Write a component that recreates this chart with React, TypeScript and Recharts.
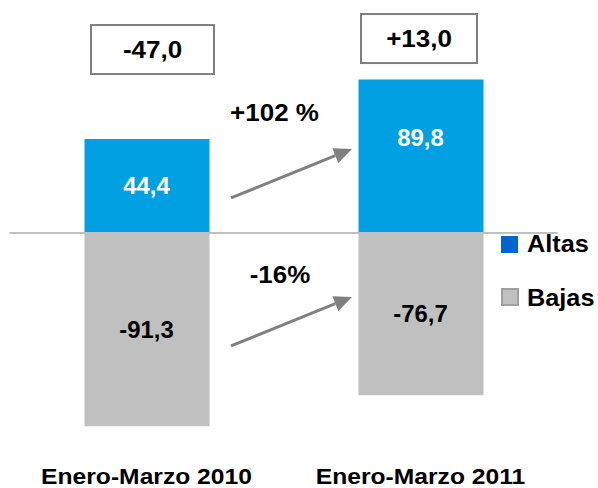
import { Bar, ComposedChart, LabelList, Legend, Line, ReferenceDot, ReferenceLine, XAxis, YAxis } from 'recharts';

const categories = ['Enero-Marzo 2010', 'Enero-Marzo 2011'];
// printed values
const altas = [44.4, 89.8];
const bajas = [-91.3, -76.7];
// bar length as it is drawn in the picture (the 2011 blue bar is drawn short of its label)
const altasDrawn = [44.4, 72.5];
const saldo = [-47.0, 13.0];
const variacion = ['+102 %', '-16%'];
const seriesNames = ['Altas', 'Bajas'];

const BLUE = '#00a0e2';
const GREY = '#c0c0c0';
const FONT = "'Liberation Sans', Arial, Helvetica, sans-serif";

const fmt = (v: number) => v.toFixed(1).replace('.', ',');
const fmtSigned = (v: number) => (v > 0 ? '+' : '') + fmt(v);

const data = categories.map((name, i) => ({
  name,
  altas: altasDrawn[i],
  bajas: bajas[i],
  altasMid: altas[i] / 2,
  bajasMid: bajas[i] / 2,
  altasText: fmt(altas[i]),
  bajasText: fmt(bajas[i]),
}));

function SText({ x, y, sx = 1.1, size = 23, anchor = 'middle', fill = '#000', children }: any) {
  return (
    <g transform={`translate(${x},${y}) scale(${sx},1)`}>
      <text x={0} y={0} textAnchor={anchor} fontSize={size} fontWeight="bold" fontFamily={FONT} fill={fill}>
        {children}
      </text>
    </g>
  );
}

const XTick = ({ x, y, payload }: any) => (
  <SText x={x} y={y + 39.5} size={22} sx={1.12}>{payload.value}</SText>
);

const inLabel = (fill: string) => (props: any) => {
  const { x, y, value } = props;
  return <SText x={x} y={y + 8.3} sx={1.04} fill={fill}>{value}</SText>;
};

const boxShape = (text: string, w: number, dx: number) => (props: any) => {
  const { cx, cy } = props;
  return (
    <g>
      <rect x={cx + dx - w / 2} y={cy - 24.5} width={w} height={49} fill="#fff" stroke="#7f7f7f" strokeWidth={2} />
      <SText x={cx + dx} y={cy + 8.3} sx={1.13}>{text}</SText>
    </g>
  );
};

const arrowShape = (text: string, tx: number, ty: number) => (props: any) => {
  const { cx, cy } = props;
  const x1 = cx + 84.5;
  const y1 = cy;
  const x2 = cx + 205.5;
  const y2 = cy - 49;
  const len = Math.hypot(x2 - x1, y2 - y1);
  const ux = (x2 - x1) / len;
  const uy = (y2 - y1) / len;
  const hl = 18;
  const hw = 8;
  const bx = x2 - ux * hl;
  const by = y2 - uy * hl;
  return (
    <g>
      <line x1={x1} y1={y1} x2={bx} y2={by} stroke="#808080" strokeWidth={3} />
      <polygon
        points={`${x2},${y2} ${bx - uy * hw},${by + ux * hw} ${bx + uy * hw},${by - ux * hw}`}
        fill="#808080"
      />
      <SText x={x1 + tx} y={y1 + ty} sx={1.13}>{text}</SText>
    </g>
  );
};

const LegendBox = () => (
  <svg width={103} height={85} style={{ display: 'block' }}>
    <rect x={6} y={8} width={17} height={17} fill="#0066cc" />
    <SText x={32} y={24.3} anchor="start" sx={1.1}>{seriesNames[0]}</SText>
    <rect x={7} y={61} width={16} height={16} fill={GREY} stroke="#a0a0a0" strokeWidth={2} />
    <SText x={32} y={78.3} anchor="start" sx={1.1}>{seriesNames[1]}</SText>
  </svg>
);

export default function App() {
  return (
    <div style={{ position: 'absolute', left: 0, top: 0, width: 598, height: 488, background: '#fff' }}>
      <ComposedChart
        width={598}
        height={488}
        data={data}
        stackOffset="sign"
        margin={{ top: 0, right: 40.5, left: 9.5, bottom: 0 }}
      >
        <XAxis dataKey="name" axisLine={false} tickLine={false} tickSize={0} tickMargin={0} height={43.4} tick={<XTick />} interval={0} />
        <YAxis hide type="number" domain={[-100, 110]} />
        <Bar dataKey="altas" stackId="s" fill={BLUE} barSize={125} isAnimationActive={false} />
        <Bar dataKey="bajas" stackId="s" fill={GREY} barSize={125} isAnimationActive={false} />
        <ReferenceLine y={0} stroke={GREY} strokeWidth={2} />
        <Line dataKey="altasMid" stroke="none" dot={false} activeDot={false} legendType="none" isAnimationActive={false}>
          <LabelList dataKey="altasText" content={inLabel('#fff')} />
        </Line>
        <Line dataKey="bajasMid" stroke="none" dot={false} activeDot={false} legendType="none" isAnimationActive={false}>
          <LabelList dataKey="bajasText" content={inLabel('#000')} />
        </Line>
        <ReferenceDot x={categories[0]} y={86.6} r={0} shape={boxShape(fmtSigned(saldo[0]), 123, 6)} />
        <ReferenceDot x={categories[1]} y={91.8} r={0} shape={boxShape(fmtSigned(saldo[1]), 116, -1.5)} />
        <ReferenceDot x={categories[0]} y={16.5} r={0} shape={arrowShape(variacion[0], 43.5, -77.3)} />
        <ReferenceDot x={categories[0]} y={-53.4} r={0} shape={arrowShape(variacion[1], 49, -62.7)} />
        <Legend
          layout="vertical"
          verticalAlign="middle"
          align="center"
          content={<LegendBox />}
          wrapperStyle={{ left: 495, top: 228, width: 103, height: 85, right: 'auto', bottom: 'auto' }}
        />
      </ComposedChart>
    </div>
  );
}
